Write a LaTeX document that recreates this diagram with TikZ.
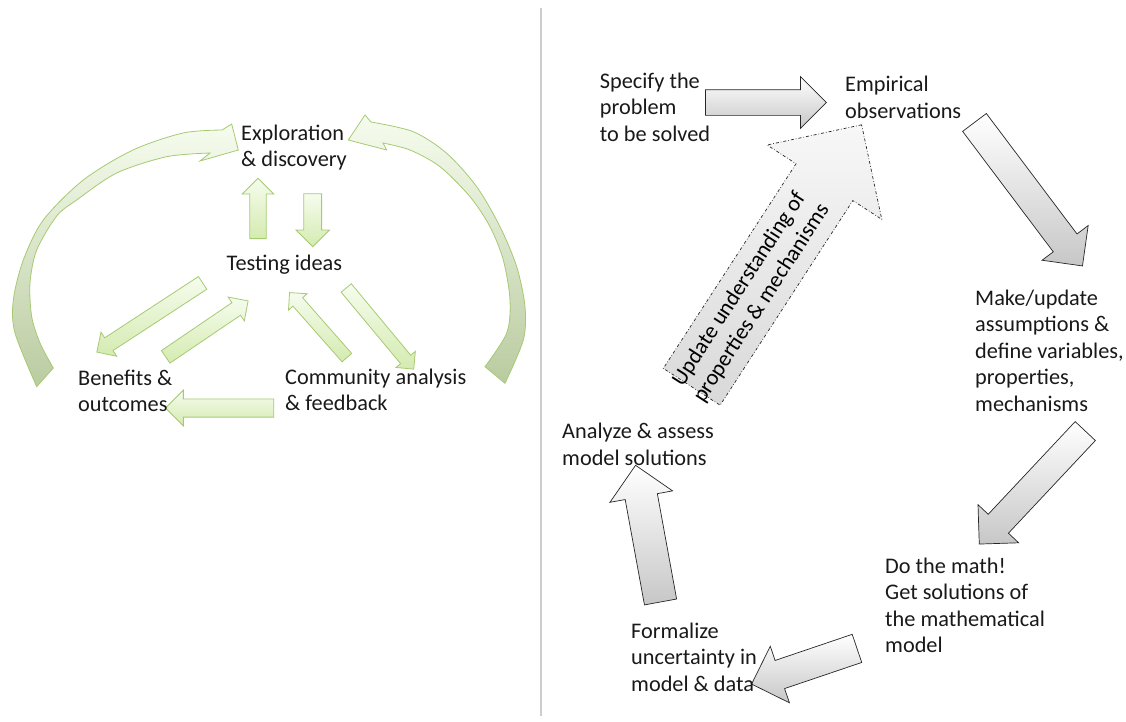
\documentclass[tikz,border=0pt]{standalone}
\usepackage{fontspec}
\setmainfont{Carlito}
\usetikzlibrary{calc,shapes.arrows}

\definecolor{leafline}{RGB}{166,202,114}
\definecolor{leaftop}{RGB}{246,252,238}
\definecolor{leafbot}{RGB}{212,235,176}
\definecolor{sagebot}{RGB}{186,203,160}
\definecolor{rulegray}{RGB}{205,205,205}

\tikzset{
  lbl/.style={anchor=north west, inner sep=0pt, align=left, text=black!90,
    font=\fontsize{22.3}{26.5}\selectfont},
  leafarrow/.style={single arrow, draw=leafline, line width=0.8pt,
    top color=leaftop, bottom color=leafbot, inner xsep=0pt, outer sep=0pt},
  stonearrow/.style={single arrow, draw=black!85, line width=0.7pt,
    top color=white, bottom color=black!22, inner xsep=0pt, outer sep=0pt},
  bendarrow/.style={draw=leafline, line width=0.8pt, top color=leaftop, bottom color=sagebot},
}

% block arrow from #2 to #3
\newcommand{\blockarr}[3][]{%
  \path let \p1=($(#3)-(#2)$), \n1={veclen(\x1,\y1)} in
    (#2) -- (#3) node[midway, sloped, allow upside down, minimum height=\n1, #1] {};
}

\begin{document}
\begin{tikzpicture}[x=1pt,y=-1pt]
	\useasboundingbox (0,0) rectangle (1126,721);
	\draw[rulegray, line width=2pt] (541,8) -- (541,716);
	%
	% big bent arrows
	\draw[bendarrow] plot[smooth] coordinates {(36.7,386.7) (15,333) (13.3,300) (23.3,260) (43.3,220) (83.3,180) (133,150) (183,133) (222,130)}
		-- (231.7,124) -- (238.3,150) -- (200,161)
		-- plot[smooth] coordinates {(210,153) (166.7,156.7) (116.7,173) (76.7,200) (56.7,216) (36.7,250) (30,283) (31.7,316.7) (40,343) (53.3,368)} -- cycle;
	\draw[bendarrow] plot[smooth] coordinates {(505,383.3) (523.3,340) (525,306.7) (516.7,266.7) (500,226.7) (476.7,186.7) (446.7,153.3) (413.3,131.7) (371,122)}
		-- (365,115) -- (348.3,140) -- (386.7,150)
		-- plot[smooth] coordinates {(383,143) (410,150) (440,166.7) (470,196.7) (490,226.7) (503.3,260) (510,300) (506.7,333) (485,366.7)} -- cycle;
	%
	% left block arrows
	\coordinate (t2e) at (258,242.7);   \coordinate (t2eh) at (258,182.3);
	\coordinate (e2t) at (312.7,189.3); \coordinate (e2th) at (312.7,242.3);
	\coordinate (t2b) at (205.8,280.8); \coordinate (t2bh) at (100,350);
	\coordinate (b2t) at (162.5,359);   \coordinate (b2th) at (245,303);
	\coordinate (c2t) at (349,360);     \coordinate (c2th) at (291.7,295);
	\coordinate (t2c) at (344,285.3);   \coordinate (t2ch) at (411.7,366.7);
	\coordinate (c2b) at (278.3,408);   \coordinate (c2bh) at (170,408);
	\blockarr[leafarrow, inner ysep=7.8, single arrow head extend=7.6]{t2e}{t2eh}
	\blockarr[leafarrow, inner ysep=8.5, single arrow head extend=7.8]{e2t}{e2th}
	\blockarr[leafarrow, inner ysep=7.2, single arrow head extend=6.8]{t2b}{t2bh}
	\blockarr[leafarrow, inner ysep=7.2, single arrow head extend=6.8]{b2t}{b2th}
	\blockarr[leafarrow, inner ysep=6, single arrow head extend=6]{c2t}{c2th}
	\blockarr[leafarrow, inner ysep=6.2, single arrow head extend=6]{t2c}{t2ch}
	\blockarr[leafarrow, inner ysep=8.7, single arrow head extend=8.8]{c2b}{c2bh}
	%
	% right block arrows
	\coordinate (s2e) at (699,102.5);  \coordinate (s2eh) at (820,102.5);
	\coordinate (e2m) at (970,116.5);  \coordinate (e2mh) at (1078,260);
	\coordinate (m2d) at (1090,426);   \coordinate (m2dh) at (984,539);
	\coordinate (d2f) at (864,646);    \coordinate (d2fh) at (758.6,681.7);
	\coordinate (f2a) at (662,610);    \coordinate (f2ah) at (637,473.3);
	\coordinate (a2e) at (682.5,401);  \coordinate (a2eh) at (852.4,139);
	\blockarr[stonearrow, inner ysep=12.5, single arrow head extend=13]{s2e}{s2eh}
	\blockarr[stonearrow, inner ysep=14.5, single arrow head extend=14]{e2m}{e2mh}
	\blockarr[stonearrow, inner ysep=13.5, single arrow head extend=14]{m2d}{m2dh}
	\blockarr[stonearrow, inner ysep=14.5, single arrow head extend=15]{d2f}{d2fh}
	\blockarr[stonearrow, inner ysep=16, single arrow head extend=15.5]{f2a}{f2ah}
	\blockarr[stonearrow, dash dot, top color=black!3, bottom color=black!15,
		inner ysep=33.5, single arrow head extend=34.5]{a2e}{a2eh}
	\path (a2e) -- (a2eh) node[pos=0.4, sloped, align=center, inner sep=0pt,
		font=\fontsize{22.3}{26.5}\selectfont] {Update understanding of\\properties \& mechanisms};
	%
	% labels
	\node[lbl] (explore) at (241,121.5) {\strut Exploration\\\& discovery};
	\node[lbl] (testing) at (226.5,251.5) {\strut Testing ideas};
	\node[lbl] (benefits) at (78,366.5) {\strut Benefits \&\\outcomes};
	\node[lbl] (community) at (285,365.5) {\strut Community analysis\\\& feedback};
	\node[lbl] (specify) at (599.7,69.7) {\strut Specify the\\problem\\to be solved};
	\node[lbl] (empirical) at (845,73) {\strut Empirical\\observations};
	\node[lbl] (assume) at (975,286.5) {\strut Make/update\\assumptions \&\\define variables,\\properties,\\mechanisms};
	\node[lbl] (domath) at (885,554.7) {\strut Do the math!\\Get solutions of\\the mathematical\\model};
	\node[lbl] (formal) at (631,619.7) {\strut Formalize\\uncertainty in\\model \& data};
	\node[lbl] (analyze) at (562,420) {\strut Analyze \& assess\\model solutions};
\end{tikzpicture}
\end{document}
